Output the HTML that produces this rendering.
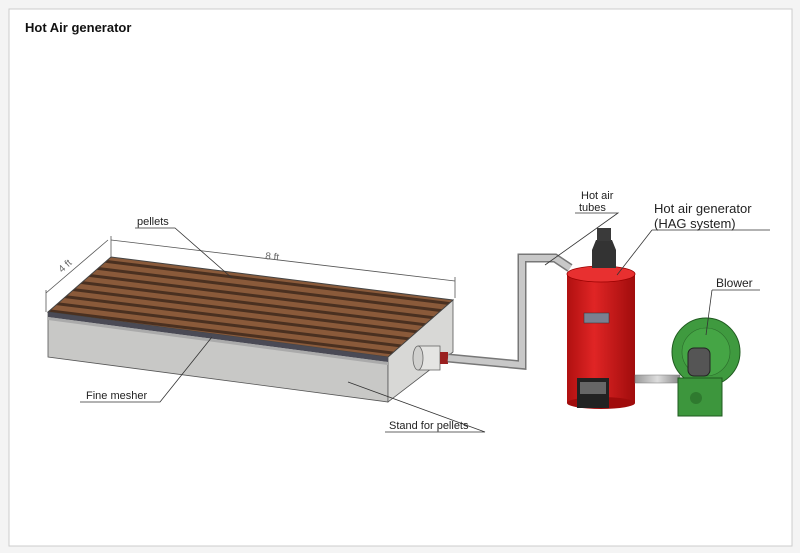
<!DOCTYPE html>
<html><head><style>
html,body{margin:0;padding:0;background:#fff;}
svg{display:block;font-family:"Liberation Sans",sans-serif;}
</style></head><body>
<svg width="800" height="553" viewBox="0 0 800 553" xmlns="http://www.w3.org/2000/svg">
<defs>
<pattern id="pel" width="6" height="8" patternUnits="userSpaceOnUse" patternTransform="rotate(7)">
<rect width="6" height="8" fill="#8a5a3a"/><rect y="5" width="6" height="3" fill="#4a3020"/>
</pattern>
<linearGradient id="red" x1="0" x2="1"><stop offset="0" stop-color="#b01010"/><stop offset="0.4" stop-color="#e02525"/><stop offset="1" stop-color="#a00c0c"/></linearGradient>
<linearGradient id="pipe" x1="0" x2="1"><stop offset="0" stop-color="#999"/><stop offset="0.5" stop-color="#ddd"/><stop offset="1" stop-color="#888"/></linearGradient>
</defs>
<rect x="0" y="0" width="800" height="553" fill="#f4f4f4"/>
<rect x="9" y="9" width="783" height="537" fill="#fff" stroke="#ccc"/>
<text x="25" y="32" font-size="13" font-weight="bold" fill="#111">Hot Air generator</text>

<!-- tray -->
<polygon points="48,312 388,357 388,402 48,357" fill="#c8c8c6" stroke="#555" stroke-width="0.8"/>
<polygon points="388,357 453,300 453,352 388,402" fill="#d8d8d6" stroke="#555" stroke-width="0.8"/>
<polygon points="48,312 111,257 453,300 388,357" fill="url(#pel)" stroke="#444"/>
<polygon points="48,312 388,357 388,362 48,317" fill="#4a4a55"/>
<polygon points="48,317 388,362 388,365 48,320" fill="#aaa"/>
<!-- connector -->
<rect x="418" y="346" width="22" height="24" fill="#e4e4e2" stroke="#666" stroke-width="0.8"/>
<ellipse cx="418" cy="358" rx="5" ry="12" fill="#d0d0ce" stroke="#666" stroke-width="0.8"/>
<rect x="440" y="352" width="8" height="12" fill="#9a2020"/>
<!-- pipes -->
<polyline points="448,358 522,365 522,258 555,258 570,268" fill="none" stroke="#777" stroke-width="9"/>
<polyline points="448,358 522,365 522,258 555,258 570,268" fill="none" stroke="#c8c8c8" stroke-width="6"/>
<!-- generator -->
<rect x="567" y="273" width="68" height="130" fill="url(#red)"/>
<ellipse cx="601" cy="274" rx="34" ry="8" fill="#e83030" stroke="#900" stroke-width="0.8"/>
<ellipse cx="601" cy="403" rx="34" ry="6" fill="#a00c0c"/>
<rect x="584" y="313" width="25" height="10" fill="#7a8090" stroke="#333" stroke-width="0.5"/>
<rect x="577" y="378" width="32" height="30" fill="#222"/>
<rect x="580" y="382" width="26" height="12" fill="#666"/>
<path d="M592,268 L592,250 L596,240 L612,240 L616,250 L616,268 Z" fill="#333"/>
<rect x="597" y="228" width="14" height="13" fill="#3a3a3a"/>
<!-- blower -->
<rect x="635" y="375" width="45" height="8" fill="url(#pipe)" stroke="#777" stroke-width="0.5"/>
<circle cx="706" cy="352" r="34" fill="#3f9a3f" stroke="#1f5a1f"/>
<circle cx="706" cy="352" r="24" fill="#45a545" stroke="#2a6a2a" stroke-width="0.6"/>
<rect x="678" y="378" width="44" height="38" fill="#3d963d" stroke="#1f5a1f"/>
<circle cx="696" cy="398" r="6" fill="#2f7a2f"/>
<rect x="688" y="348" width="22" height="28" rx="6" fill="#555" stroke="#222"/>
<!-- dims -->
<g stroke="#555" stroke-width="0.8" fill="none">
<line x1="111" y1="240" x2="455" y2="281"/><line x1="111" y1="236" x2="111" y2="257"/><line x1="455" y1="277" x2="455" y2="298"/>
<line x1="46" y1="293" x2="108" y2="240"/><line x1="46" y1="290" x2="46" y2="312"/>
</g>
<text x="265" y="259" font-size="10" fill="#666" transform="rotate(6 265 259)">8 ft</text>
<text x="62" y="273" font-size="10" fill="#666" transform="rotate(-42 62 273)">4 ft</text>
<!-- leaders -->
<g stroke="#333" stroke-width="0.8" fill="none">
<polyline points="135,228 175,228 232,278"/>
<polyline points="80,402 160,402 212,337"/>
<polyline points="385,432 485,432 348,382"/>
<polyline points="575,213 618,213 545,265"/>
<polyline points="652,230 770,230"/><line x1="652" y1="230" x2="617" y2="275"/>
<polyline points="712,290 760,290"/><line x1="712" y1="290" x2="706" y2="335"/>
</g>
<g font-size="11" fill="#222">
<text x="137" y="225">pellets</text>
<text x="86" y="399">Fine mesher</text>
<text x="389" y="429">Stand for pellets</text>
<text x="581" y="199">Hot air</text>
<text x="579" y="211">tubes</text>
<text x="654" y="213" font-size="13">Hot air generator</text>
<text x="654" y="228" font-size="13">(HAG system)</text>
<text x="716" y="287" font-size="12">Blower</text>
</g>
</svg>
</body></html>
